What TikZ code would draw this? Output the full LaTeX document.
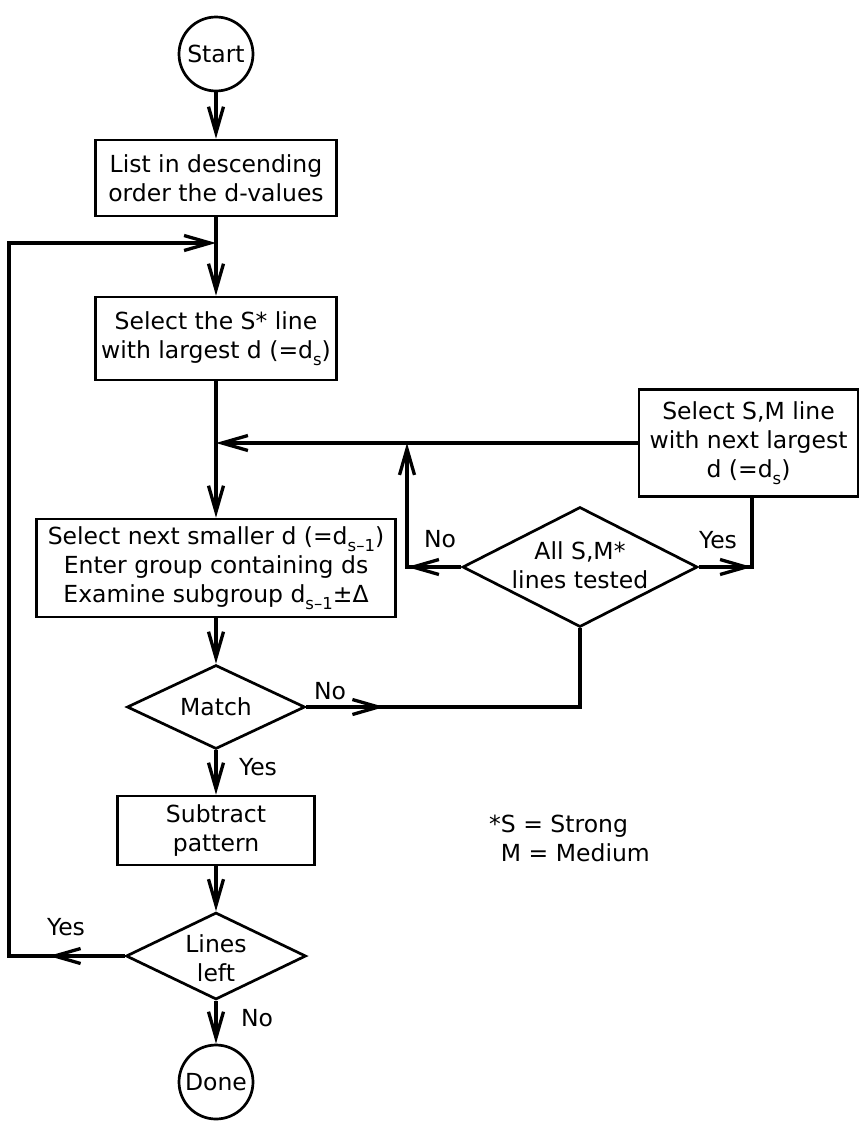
\documentclass[tikz,border=0pt]{standalone}
\usepackage{fontspec}
\setmainfont{DejaVu Sans}
\usetikzlibrary{arrows.meta,shapes.geometric}
\newcommand\mysub[1]{\raisebox{-0.28em}{\fontsize{16.5}{16.5}\selectfont #1}}
\begin{document}
\begin{tikzpicture}[x=1pt,y=-1pt,
  every node/.style={font=\fontsize{23.5}{29}\selectfont},
  box/.style={draw, line width=2.7pt, inner sep=0pt, align=center},
  term/.style={draw, circle, line width=2.7pt, minimum size=74pt, inner sep=0pt},
  dia/.style={draw, diamond, line width=2.7pt, inner sep=0pt},
  lbl/.style={inner sep=0pt, align=center},
  con/.style={line width=3.3pt},
  arr/.style={con, -{Straight Barb[length=26pt,width=15pt]}},
]
\useasboundingbox (0,0) rectangle (867,1146);

% nodes
\node[term] (start) at (216,54) {Start};
\node[box, minimum width=241pt, minimum height=76pt] (b1) at (216,178)
  {List in descending\\order the d-values};
\node[box, minimum width=241pt, minimum height=83pt] (b2) at (216,338.5)
  {Select the S* line\\with largest d (=d\mysub{s})};
\node[box, minimum width=359pt, minimum height=98pt] (b3) at (216,568)
  {Select next smaller d (=d\mysub{s–1})\\Enter group containing ds\\Examine subgroup d\mysub{s–1}±Δ};
\node[box, minimum width=219pt, minimum height=107pt] (b4) at (748.5,443)
  {Select S,M line\\with next largest\\d (=d\mysub{s})};
\node[dia, minimum width=235pt, minimum height=120pt] (d2) at (580,567) {};
\node[lbl] (d2t) at (580,565) {All S,M*\\lines tested};
\node[dia, minimum width=178pt, minimum height=84pt] (m) at (216,707) {};
\node[lbl] (mt) at (216,707) {Match};
\node[box, minimum width=197pt, minimum height=69pt] (b5) at (216,830.5)
  {Subtract\\pattern};
\node[dia, minimum width=180pt, minimum height=87pt] (ll) at (216,956) {};
\node[lbl] (llt) at (216,958) {Lines\\left};
\node[term] (done) at (216,1082) {Done};

% labels
\node[lbl] (lno1) at (440,539) {No};
\node[lbl] (lyes1) at (718,540) {Yes};
\node[lbl] (lno2) at (330,691) {No};
\node[lbl] (lyes2) at (258,767) {Yes};
\node[lbl] (lyes3) at (66,927) {Yes};
\node[lbl] (lno3) at (257,1018) {No};
\node[lbl, anchor=west, align=left] (legend) at (489,838)
  {*S = Strong\\\phantom{*}M = Medium};

% coordinates
\coordinate (c1) at (407,567);
\coordinate (c2) at (752,567);
\coordinate (c3) at (d2.south |- m.east);
\coordinate (c4) at (9,956);
\coordinate (c5) at (9,243);

% main flow
\draw[arr] (start.south) -- (start.south |- b1.north);
\draw[arr] (b1.south) -- (b1.south |- b2.north);
\draw[arr] (b2.south) -- (b2.south |- b3.north);
\draw[arr] (b3.south) -- (b3.south |- m.north);
\draw[arr] (m.south) -- (m.south |- b5.north);
\draw[arr] (b5.south) -- (b5.south |- ll.north);
\draw[arr] (ll.south) -- (done.north);

% right loop
\draw[arr] (b4.west) -- (b4.west -| b2.south);
\draw[arr] (d2.west) -- (c1);
\draw[arr] (d2.west) -- (c1) -- (c1 |- b4.west);
\draw[arr] (d2.east) -- (c2);
\draw[con] (d2.east) -- (c2) -- (c2 |- b4.south);
\draw[con] (m.east) -- (c3) -- (d2.south);
\draw[arr] (m.east) -- ++(78,0);

% left loop
\draw[arr] (ll.west) -- (c4) -- (c5) -- (c5 -| b1.south);
\draw[arr] (ll.west) -- ++(-76,0);
\end{tikzpicture}
\end{document}
